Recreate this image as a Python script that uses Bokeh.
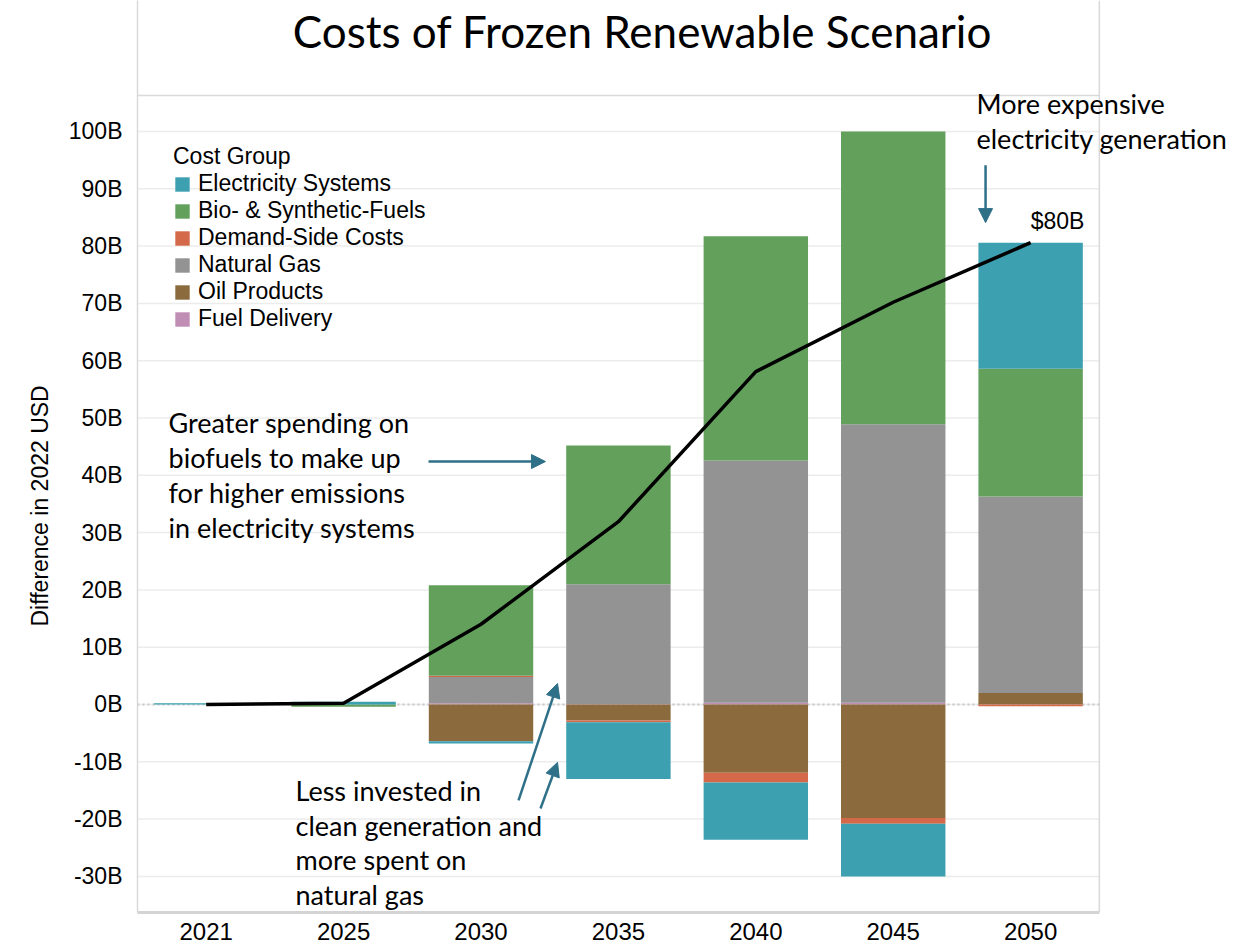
from bokeh.plotting import figure
from bokeh.models import (Range1d, FixedTicker, Label, Arrow, NormalHead, Legend, LegendItem, Title)
from bokeh.embed import file_html
from bokeh.resources import INLINE

# ---------------- data (billions of 2022 USD) ----------------
years = ["2021", "2025", "2030", "2035", "2040", "2045", "2050"]
electricity = [0.2, 0.5, -0.4, -9.9, -10.0, -9.2, 22.0]
bio_synthetic = [0.0, -0.4, 15.8, 24.2, 39.1, 51.1, 22.3]
demand_side = [0.0, 0.0, 0.2, -0.3, -1.7, -1.0, -0.3]
natural_gas = [0.0, 0.0, 4.6, 20.9, 42.3, 48.6, 34.3]
oil_products = [0.0, 0.0, -6.4, -2.8, -11.9, -19.8, 2.0]
fuel_delivery = [0.0, 0.0, 0.2, 0.1, 0.3, 0.3, 0.0]
total_cost = [0.0, 0.2, 14.0, 31.9, 58.1, 70.2, 80.6]

y_ticks = [-30, -20, -10, 0, 10, 20, 30, 40, 50, 60, 70, 80, 90, 100]
y_tick_labels = ["-30B", "-20B", "-10B", "0B", "10B", "20B", "30B", "40B", "50B",
                 "60B", "70B", "80B", "90B", "100B"]

series = {
    "Electricity Systems": (electricity, "#3da0b1"),
    "Bio- & Synthetic-Fuels": (bio_synthetic, "#62a05c"),
    "Demand-Side Costs": (demand_side, "#d4694a"),
    "Natural Gas": (natural_gas, "#939393"),
    "Oil Products": (oil_products, "#8b6b3d"),
    "Fuel Delivery": (fuel_delivery, "#c08db5"),
}
stack_order = ["Fuel Delivery", "Oil Products", "Natural Gas", "Demand-Side Costs",
               "Bio- & Synthetic-Fuels", "Electricity Systems"]
legend_order = ["Electricity Systems", "Bio- & Synthetic-Fuels", "Demand-Side Costs",
                "Natural Gas", "Oil Products", "Fuel Delivery"]

ARIAL = "Liberation Sans"
CALIBRI = "Lato"
ARROW_C = "#2e7088"
GRID_C = "#ececec"
BORDER_C = "#d9d9d9"

n = len(years)
xpos = [i + 0.5 for i in range(n)]          # category centres on the x scale
Y_MIN, Y_MAX = -36.3, 106.3                  # chart area limits
X_END = 8.122                                # room on the right for the annotation
Y_END = 122.86                               # room on top for the title

p = figure(width=1253, height=947, x_range=Range1d(0, X_END), y_range=Range1d(Y_MIN, Y_END),
           output_backend="svg", toolbar_location=None,
           min_border_left=137, min_border_right=0, min_border_top=0, min_border_bottom=35)
p.title.visible = False
p.background_fill_color = "white"
p.border_fill_color = "white"
p.outline_line_color = None
p.xgrid.grid_line_color = None
p.ygrid.grid_line_color = None

# grid lines and chart-area border limited to the category area
p.segment(x0=[0] * len(y_ticks), x1=[n] * len(y_ticks), y0=y_ticks, y1=y_ticks,
          line_color=GRID_C, line_width=1.5, level="underlay")
p.segment(x0=[0, n], x1=[n, n], y0=[Y_MAX, Y_MIN], y1=[Y_MAX, Y_END],
          line_color=BORDER_C, line_width=1.5, level="underlay")

# stacked bars (positive and negative stacks separately)
pos = [0.0] * n
neg = [0.0] * n
renderers = {}
for name in stack_order:
    vals, color = series[name]
    bottoms, tops = [], []
    for i, v in enumerate(vals):
        if v >= 0:
            b = pos[i]; t = b + v; pos[i] = t
        else:
            b = neg[i]; t = b + v; neg[i] = t
        bottoms.append(b); tops.append(t)
    renderers[name] = p.vbar(x=xpos, bottom=bottoms, top=tops, width=0.76,
                             fill_color=color, line_color=None)

# zero line (dotted)
p.segment(x0=[0], x1=[n], y0=[0], y1=[0], line_color="#c8c8c8", line_dash="2 3",
          line_width=2, level="underlay")

p.line(x=xpos, y=total_cost, line_color="black", line_width=3.5)

# axes
p.yaxis.ticker = FixedTicker(ticks=y_ticks)
p.yaxis.major_label_overrides = {t: l for t, l in zip(y_ticks, y_tick_labels)}
p.yaxis.major_label_text_font = ARIAL
p.yaxis.major_label_text_font_size = "23px"
p.yaxis.major_label_text_color = "black"
p.yaxis.major_label_standoff = 9
p.yaxis.major_tick_line_color = None
p.yaxis.minor_tick_line_color = None
p.yaxis.axis_line_color = BORDER_C
p.yaxis.axis_line_width = 1.5

# y-axis title, placed along the chart area (not the full frame)
p.add_layout(Title(text="Difference in 2022 USD", align="left", offset=286, standoff=25,
                   text_font=ARIAL, text_font_size="23px", text_font_style="normal",
                   text_color="black"), "left")

p.xaxis.ticker = FixedTicker(ticks=xpos)
p.xaxis.major_label_overrides = {x: y for x, y in zip(xpos, years)}
p.xaxis.bounds = (0, n)
p.xaxis.major_label_text_font = ARIAL
p.xaxis.major_label_text_font_size = "24px"
p.xaxis.major_label_text_color = "black"
p.xaxis.major_label_standoff = 4
p.xaxis.major_tick_line_color = None
p.xaxis.minor_tick_line_color = None
p.xaxis.axis_line_color = "#d4d4d4"
p.xaxis.axis_line_width = 3

# legend
legend = Legend(items=[LegendItem(label=nm, renderers=[renderers[nm]]) for nm in legend_order],
                title="Cost Group", location=(36, 580), padding=0, margin=0,
                background_fill_alpha=0, border_line_color=None,
                label_text_font=ARIAL, label_text_font_size="23px", label_text_color="black",
                title_text_font=ARIAL, title_text_font_size="23px", title_text_font_style="normal",
                title_text_color="black",
                title_standoff=0, glyph_width=18, glyph_height=18, label_height=24,
                label_standoff=7, spacing=0)
p.add_layout(legend)

# chart title
p.add_layout(Label(x=3.675, y=117.6, text="Costs of Frozen Renewable Scenario",
                   text_font=CALIBRI, text_font_size="44px", text_align="center",
                   text_baseline="middle", text_color="black"))

# annotations
def lbl(x, y, t, font=CALIBRI, size="27px"):
    p.add_layout(Label(x=x, y=y, text=t, text_font=font, text_font_size=size,
                       text_align="left", text_baseline="middle", text_color="black"))

for y, t in zip([49.2, 43.1, 37.0, 30.9],
                ["Greater spending on", "biofuels to make up", "for higher emissions",
                 "in electricity systems"]):
    lbl(0.226, y, t)
for y, t in zip([-15.0, -21.1, -27.05, -33.2],
                ["Less invested in", "clean generation and", "more spent on", "natural gas"]):
    lbl(1.15, y, t)
for y, t in zip([104.9, 98.8], ["More expensive", "electricity generation"]):
    lbl(6.106, y, t)
lbl(6.50, 84.3, "$80B", font=ARIAL, size="23px")

def arrow(x0, y0, x1, y1):
    p.add_layout(Arrow(end=NormalHead(size=14, fill_color=ARROW_C, line_color=ARROW_C),
                       x_start=x0, y_start=y0, x_end=x1, y_end=y1,
                       line_color=ARROW_C, line_width=2.5))

arrow(2.118, 42.4, 2.969, 42.4)
arrow(2.773, -16.75, 3.057, 3.66)
arrow(2.933, -18.15, 3.057, -10.1)
arrow(6.172, 94.1, 6.172, 84.1)

open("out.html", "w").write(file_html(p, INLINE))
